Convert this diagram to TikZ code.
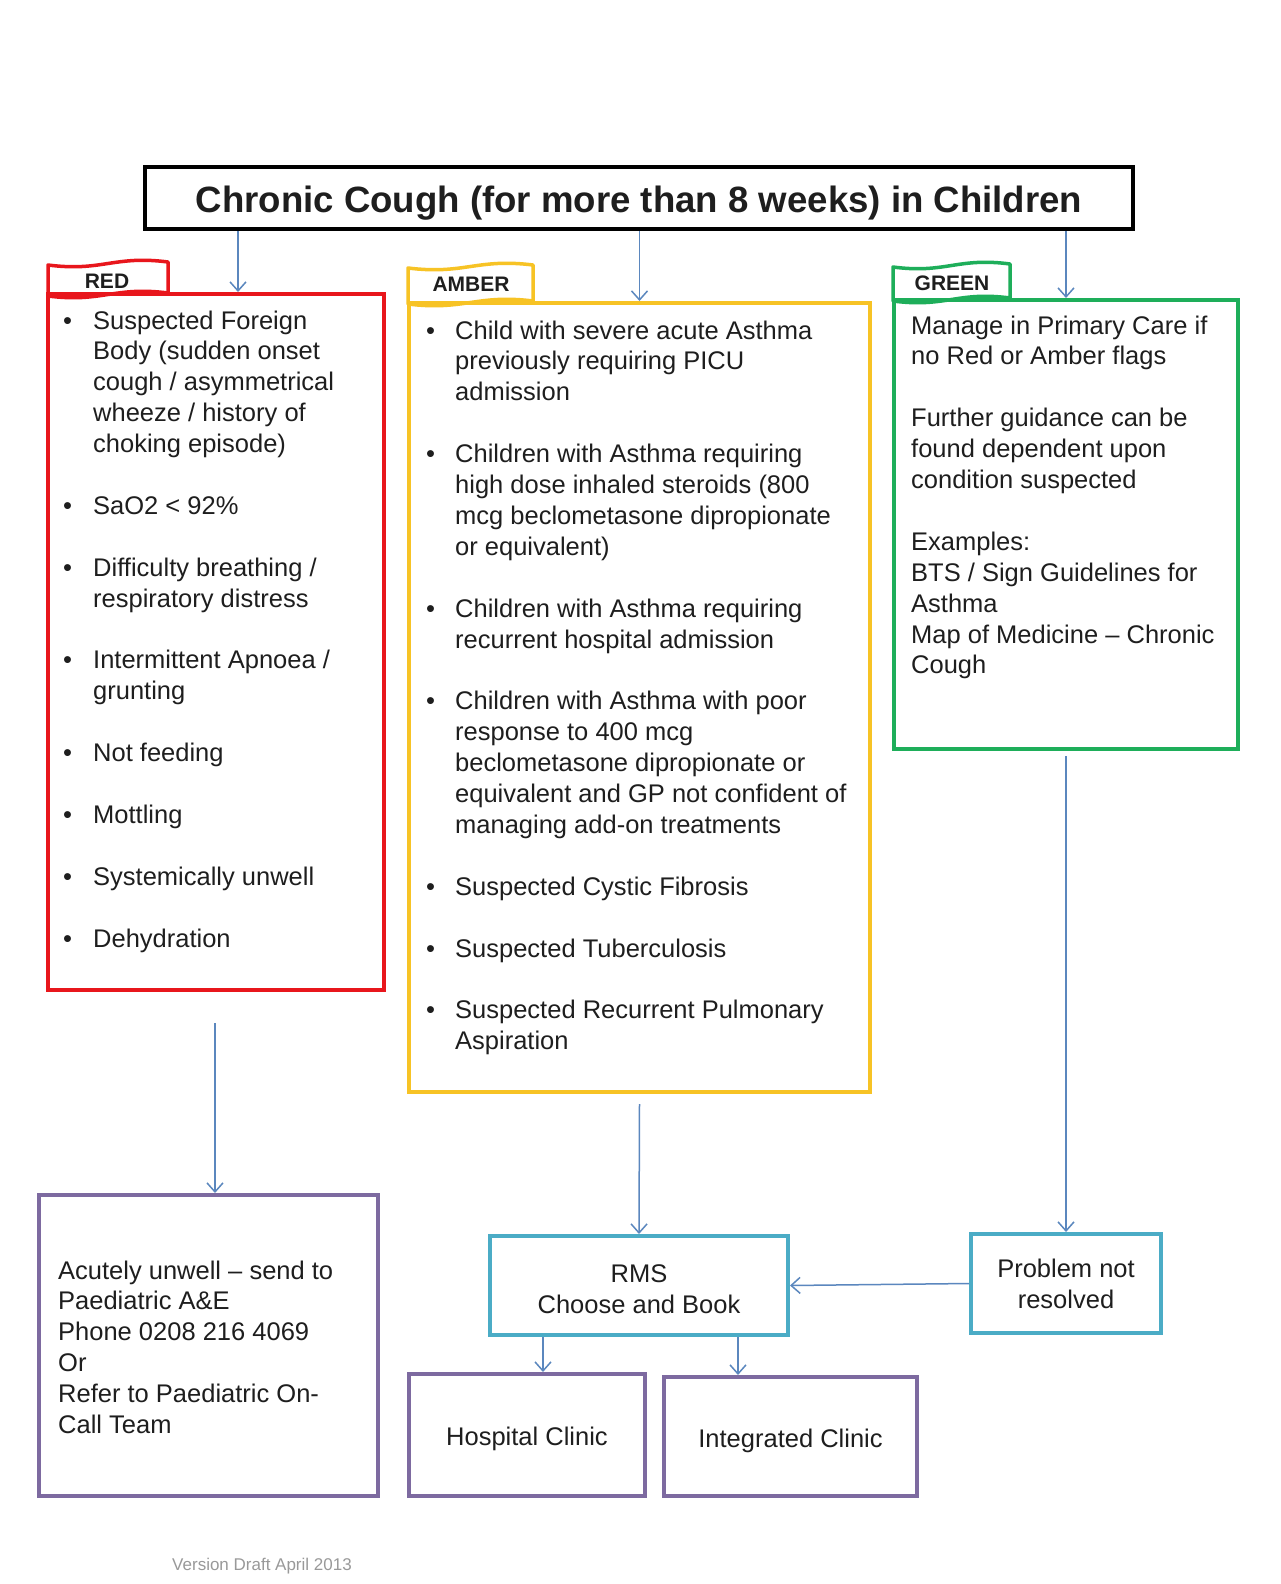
\documentclass[tikz,border=0pt]{standalone}
\usepackage{fontspec}
\setmainfont{Liberation Sans}
\usetikzlibrary{arrows.meta,calc}
\definecolor{cred}{HTML}{E8161C}
\definecolor{camber}{HTML}{F7C325}
\definecolor{cgreen}{HTML}{1EAE5A}
\definecolor{cpurple}{HTML}{7D6AA0}
\definecolor{cteal}{HTML}{4BACC6}
\definecolor{carrow}{HTML}{5B87BE}
\definecolor{ctext}{HTML}{1E1E1E}
\newcommand\bodyfont{\fontsize{25.5}{30.9}\selectfont}
\newcommand\wavetab[5]{%
 \draw[#1, line width=3.5pt, fill=white, line join=round]
 ({#2},{#5}) -- ({#2},{#4+3})
 .. controls ({#2+0.45*(#3-#2)},{#4+10}) and ({#2+0.55*(#3-#2)},{#4-7}) .. ({#3},{#4})
 -- ({#3},{#5-3})
 .. controls ({#2+0.55*(#3-#2)},{#5-10}) and ({#2+0.45*(#3-#2)},{#5+7}) .. ({#2},{#5}) -- cycle;}
\begin{document}
\begin{tikzpicture}[x=1pt,y=-1pt,
  box/.style={draw, line width=4pt, inner sep=0pt, text=ctext, font=\bodyfont, align=center},
  txt/.style={inner sep=0pt, text=ctext, font=\bodyfont, anchor=base west},
  tablbl/.style={inner sep=0pt, text=ctext, font=\fontsize{21}{24}\selectfont\bfseries},
  arr/.style={draw=carrow, line width=1.5pt, -{Straight Barb[length=9pt,width=16pt,line width=1.5pt]}}]
\useasboundingbox[fill=white] (0,0) rectangle (1280,1584);

% title
\node[box, draw=black, minimum width=988pt, minimum height=62pt,
      text height=36.7pt, text depth=7.7pt,
      font=\fontsize{36.6}{40}\selectfont\bfseries] (title) at (639,198)
      {Chronic Cough (for more than 8 weeks) in Children};

% tabs
\wavetab{cred}{48}{168}{262}{296}
\wavetab{camber}{408}{533}{265}{304}
\wavetab{cgreen}{893}{1010}{264}{301}
\node[tablbl] (redlbl) at (107,281) {RED};
\node[tablbl] (amberlbl) at (471,284) {AMBER};
\node[tablbl] (greenlbl) at (952,283) {GREEN};

% main boxes
\node[box, draw=cred, minimum width=336pt, minimum height=696pt] (red) at (216,642) {};
\node[box, draw=camber, minimum width=461pt, minimum height=789pt] (amber) at (639.5,697.5) {};
\node[box, draw=cgreen, minimum width=344pt, minimum height=449pt] (green) at (1066,524.5) {};

\node[txt] (redtext) at (63,329) {\begin{tabular}[t]{@{}p{30pt}@{}l@{}}
\textbullet & Suspected Foreign\\
 & Body (sudden onset\\
 & cough / asymmetrical\\
 & wheeze / history of\\
 & choking episode)\\
 & \\
\textbullet & SaO2 < 92\%\\
 & \\
\textbullet & Difficulty breathing /\\
 & respiratory distress\\
 & \\
\textbullet & Intermittent Apnoea /\\
 & grunting\\
 & \\
\textbullet & Not feeding\\
 & \\
\textbullet & Mottling\\
 & \\
\textbullet & Systemically unwell\\
 & \\
\textbullet & Dehydration
\end{tabular}};

\node[txt] (ambertext) at (426,339) {\begin{tabular}[t]{@{}p{29pt}@{}l@{}}
\textbullet & Child with severe acute Asthma\\
 & previously requiring PICU\\
 & admission\\
 & \\
\textbullet & Children with Asthma requiring\\
 & high dose inhaled steroids (800\\
 & mcg beclometasone dipropionate\\
 & or equivalent)\\
 & \\
\textbullet & Children with Asthma requiring\\
 & recurrent hospital admission\\
 & \\
\textbullet & Children with Asthma with poor\\
 & response to 400 mcg\\
 & beclometasone dipropionate or\\
 & equivalent and GP not confident of\\
 & managing add-on treatments\\
 & \\
\textbullet & Suspected Cystic Fibrosis\\
 & \\
\textbullet & Suspected Tuberculosis\\
 & \\
\textbullet & Suspected Recurrent Pulmonary\\
 & Aspiration
\end{tabular}};

\node[txt] (greentext) at (911,334) {\begin{tabular}[t]{@{}l@{}}
Manage in Primary Care if\\
no Red or Amber flags\\
\\
Further guidance can be\\
found dependent upon\\
condition suspected\\
\\
Examples:\\
BTS / Sign Guidelines for\\
Asthma\\
Map of Medicine -- Chronic\\
Cough
\end{tabular}};

% bottom boxes
\node[box, draw=cpurple, minimum width=339pt, minimum height=301pt] (acute) at (208.5,1345.5) {};
\node[txt] (acutetext) at (58,1279) {\begin{tabular}[t]{@{}l@{}}
Acutely unwell -- send to\\
Paediatric A\&E\\
Phone 0208 216 4069\\
Or\\
Refer to Paediatric On-\\
Call Team
\end{tabular}};

\node[box, draw=cteal, minimum width=298pt, minimum height=99pt,
      text height=56.6pt] (rms) at (639,1285.5) {RMS\\Choose and Book};
\node[box, draw=cteal, minimum width=190pt, minimum height=99pt] (prob) at (1066,1283.5) {Problem not\\resolved};
\node[box, draw=cpurple, minimum width=236pt, minimum height=122pt,
      text height=26.6pt, text depth=5.4pt] (hosp) at (527,1435) {Hospital Clinic};
\node[box, draw=cpurple, minimum width=253pt, minimum height=119pt,
      text height=26.6pt, text depth=5.4pt] (integ) at (790.5,1436.5) {Integrated Clinic};

\node[inner sep=0pt, text=black!40, font=\fontsize{17}{20}\selectfont] (version) at (262,1566) {Version Draft April 2013};

% connectors
\coordinate (rA) at (238,0);
\draw[arr] (title.south -| rA) -- (red.north -| rA);
\draw[arr] (title.south -| amber.north) -- (amber.north);
\draw[arr] (title.south -| green.north) -- (green.north);
\coordinate (rB) at (215,1023);
\draw[arr] (rB) -- (acute.north -| rB);
\draw[arr] ($(amber.south)+(0,10)$) -- (rms.north);
\draw[arr] ($(green.south)+(0,5)$) -- (prob.north);
\draw[arr] (prob.west) -- (rms.east);
\coordinate (rC) at (543,0);
\coordinate (rD) at (738,0);
\draw[arr] (rms.south -| rC) -- (hosp.north -| rC);
\draw[arr] (rms.south -| rD) -- (integ.north -| rD);
\end{tikzpicture}
\end{document}
